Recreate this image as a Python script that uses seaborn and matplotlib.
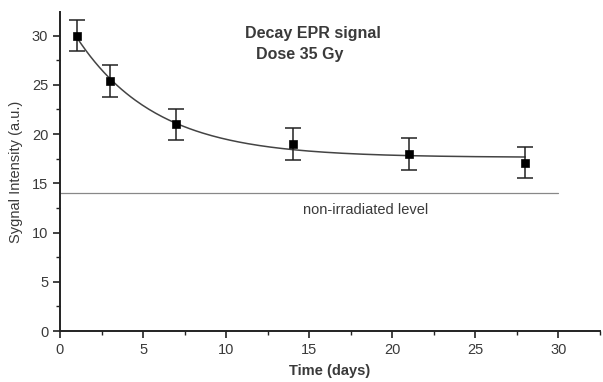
import numpy as np
import pandas as pd
import matplotlib
matplotlib.use("Agg")
import matplotlib.pyplot as plt
import seaborn as sns
from matplotlib.ticker import MultipleLocator

days = [1, 3, 7, 14, 21, 28]
signal = [30.0, 25.4, 21.0, 19.0, 18.0, 17.1]
err = [1.6, 1.6, 1.6, 1.6, 1.6, 1.6]
background = 14.0

df = pd.DataFrame({"days": days, "signal": signal, "err": err})

# exponential decay fit y = a + b*exp(-t/tau), tau by grid search
t = np.array(days, float)
y = np.array(signal, float)
best = None
for tau in np.linspace(0.5, 20, 400):
    X = np.column_stack([np.ones_like(t), np.exp(-t / tau)])
    coef, res, *_ = np.linalg.lstsq(X, y, rcond=None)
    sse = np.sum((X @ coef - y) ** 2)
    if best is None or sse < best[0]:
        best = (sse, tau, coef)
_, tau, (a, b) = best
tt = np.linspace(1, 28, 200)
fit = pd.DataFrame({"days": tt, "signal": a + b * np.exp(-tt / tau)})

sns.set_style("white")
plt.rcParams["font.family"] = ["Liberation Sans", "DejaVu Sans"]
grey = "#3a3a3a"

fig = plt.figure(figsize=(6.03, 3.82), dpi=100)
ax = fig.add_axes([0.0995, 0.1335, 0.8955, 0.835])

sns.lineplot(data=fit, x="days", y="signal", ax=ax, color="#444444", lw=1.1)
ax.errorbar(df["days"], df["signal"], yerr=df["err"], fmt="none",
            ecolor="#222222", elinewidth=1.1, capsize=6, capthick=1.1)
sns.scatterplot(data=df, x="days", y="signal", ax=ax, marker="s", s=36,
                color="black", edgecolor="black", zorder=5)

ax.plot([0, 30], [background, background], color="#888888", lw=0.9)
ax.text(14.6, 12.3, "non-irradiated level", fontsize=10.5, color=grey,
        ha="left", va="center")

ax.text(0.469, 0.934, "Decay EPR signal", transform=ax.transAxes,
        fontsize=11.5, fontweight="bold", color=grey, ha="center", va="center")
ax.text(0.4435, 0.868, "Dose 35 Gy", transform=ax.transAxes,
        fontsize=11.5, fontweight="bold", color=grey, ha="center", va="center")

ax.set_xlim(0, 32.5)
ax.set_ylim(0, 32.4)
ax.xaxis.set_major_locator(MultipleLocator(5))
ax.xaxis.set_minor_locator(MultipleLocator(2.5))
ax.yaxis.set_major_locator(MultipleLocator(5))
ax.yaxis.set_minor_locator(MultipleLocator(2.5))
ax.tick_params(which="major", direction="out", length=5, width=1.2,
               colors="#222222", labelcolor=grey, labelsize=10.5)
ax.tick_params(which="minor", direction="out", length=3, width=1.0,
               colors="#222222")
ax.tick_params(axis="x", which="both", bottom=True)
ax.tick_params(axis="y", which="both", left=True)

for side in ["top", "right"]:
    ax.spines[side].set_visible(False)
for side in ["left", "bottom"]:
    ax.spines[side].set_color("#222222")
    ax.spines[side].set_linewidth(1.4)

ax.set_xlabel("Time (days)", fontsize=10.5, fontweight="bold", color=grey,
              labelpad=5)
ax.set_ylabel("Sygnal Intensity (a.u.)", fontsize=10.5, color=grey, labelpad=6)

fig.savefig("out.png", dpi=100)
